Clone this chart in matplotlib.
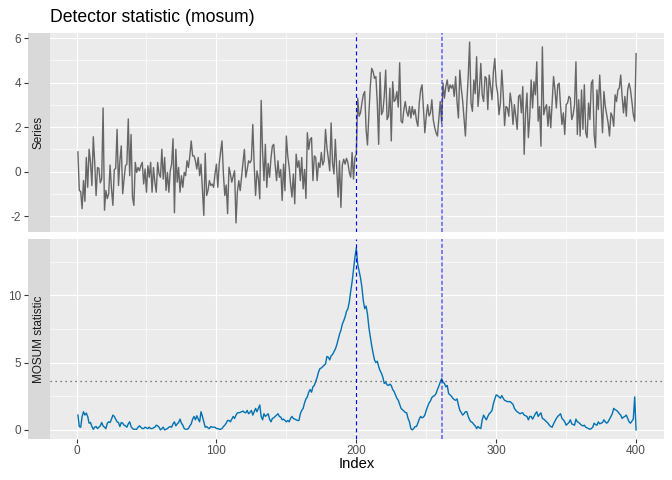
"""Detector statistic (mosum) - series panel + MOSUM statistic panel, ggplot-like look."""

import matplotlib
matplotlib.use("Agg")
import matplotlib.pyplot as plt
from matplotlib.ticker import FixedLocator

plt.rcParams["font.family"] = ["Liberation Sans", "DejaVu Sans"]
plt.rcParams["axes.unicode_minus"] = False

# --- Data ---
series = [
    0.89, -0.84, -0.89, -1.66, -0.40, -1.33, 0.64, -0.70, 1.01, 0.42,
    -0.62, 1.57, 0.42, -1.07, 0.19, 0.15, -0.50, -0.33, 2.86, -1.73,
    -0.84, -1.21, -0.99, 0.30, -0.77, -1.51, 0.09, 0.15, 1.90, -0.62,
    0.49, 1.16, -0.99, -0.33, 0.27, 0.34, 2.37, -0.18, 1.67, -1.14,
    -1.51, 0.42, -0.03, 0.19, 0.04, 0.27, 0.42, -0.55, 0.12, -0.92,
    0.27, -0.25, 0.42, -0.92, 0.19, -0.47, -0.92, 0.42, -0.10, -0.25,
    1.01, -0.33, 0.64, -0.84, -0.03, -0.92, 0.04, 0.34, 1.48, -1.84,
    1.01, -0.47, 0.19, -0.92, -0.18, -0.70, -0.03, -0.18, 0.49, 0.19,
    0.71, 1.38, 0.71, 0.71, 0.49, 0.12, 0.64, -0.18, 0.34, -0.77,
    -1.96, 0.83, -1.07, -0.84, -0.40, -0.62, -0.55, -0.70, -0.10, 0.34,
    -0.70, 0.34, 0.90, 1.38, -0.10, -1.07, -0.60, -1.88, 0.20, -0.10,
    -0.47, -0.20, 0.04, -2.30, -0.90, -0.40, -0.85, -0.20, 0.41, 1.00,
    -0.25, 0.10, 0.49, 0.40, 0.52, 2.12, 0.30, -1.07, 0.04, -0.30,
    -1.22, 3.20, 0.90, -0.40, 1.23, -0.70, 0.37, -0.25, 0.60, 1.15,
    1.23, 0.30, -0.40, 0.49, -0.25, 0.10, -1.29, 0.34, -0.85, 1.60,
    0.71, 0.20, -0.55, -1.14, -0.10, -1.44, 0.79, 0.20, 0.49, -0.40,
    0.64, -0.77, 0.10, -1.20, 1.75, 1.00, 1.45, 1.53, -0.40, 0.71,
    0.64, -0.40, 0.40, 0.19, 0.86, 0.30, 0.49, 1.90, 1.08, 0.60,
    0.04, 2.19, 0.41, -0.10, 1.45, 0.20, -1.14, 0.49, -1.60, 0.30,
    0.56, 0.34, 0.60, 0.41, -0.03, -0.25, 0.86, -0.33, 0.64, 0.78,
    3.30, 2.49, 2.64, 3.08, 3.45, 3.60, 1.90, 1.20, 2.60, 3.82,
    4.64, 4.49, 4.19, 4.27, 3.08, 1.23, 4.46, 2.56, 2.71, 3.40,
    4.56, 2.34, 2.49, 3.75, 1.38, 4.04, 3.15, 3.23, 3.60, 2.90,
    4.89, 2.27, 2.19, 2.79, 3.15, 2.70, 2.49, 2.93, 2.41, 2.93,
    2.56, 2.79, 2.30, 2.04, 3.08, 3.67, 3.90, 2.86, 1.75, 2.49,
    3.01, 2.50, 2.64, 3.23, 2.34, 2.00, 1.75, 1.60, 2.40, 3.15,
    2.19, 3.97, 3.30, 3.82, 4.12, 3.60, 3.90, 3.75, 3.90, 3.38,
    4.27, 3.15, 2.41, 4.56, 3.75, 3.20, 2.40, 1.60, 3.08, 4.27,
    5.82, 3.08, 2.71, 4.12, 3.50, 5.16, 2.93, 3.67, 4.86, 3.45,
    3.15, 4.27, 4.19, 2.79, 4.34, 3.82, 3.23, 4.49, 5.08, 3.90,
    3.53, 2.56, 3.08, 4.56, 3.53, 2.07, 2.93, 2.86, 2.49, 3.53,
    3.08, 2.12, 3.01, 2.49, 1.90, 3.38, 3.45, 2.64, 3.82, 0.78,
    2.64, 3.53, 1.53, 2.49, 4.12, 2.86, 4.04, 3.45, 4.93, 2.27,
    2.93, 1.15, 5.60, 2.56, 2.86, 3.01, 2.04, 2.93, 1.97, 3.08,
    4.27, 3.67, 2.86, 3.90, 3.97, 2.93, 2.12, 2.64, 1.67, 3.01,
    3.08, 3.38, 3.30, 2.34, 2.56, 3.01, 4.93, 1.67, 3.23, 1.60,
    3.67, 1.90, 3.90, 1.75, 1.53, 3.08, 2.34, 3.97, 4.12, 1.67,
    1.08, 3.67, 2.79, 4.34, 3.08, 1.75, 3.60, 2.93, 2.56, 2.19,
    1.60, 2.64, 2.49, 2.04, 3.45, 3.15, 3.67, 3.75, 4.34, 3.38,
    2.64, 3.38, 2.49, 3.67, 3.97, 3.67, 3.15, 2.56, 2.27, 5.30,
]

mosum = [
    1.1, 0.25, 0.2, 1.0, 1.35, 1.1, 1.25, 1.0, 0.5, 0.55,
    0.25, 0.05, 0.2, 0.25, 0.1, 0.2, 0.3, 0.55, 0.3, 0.2,
    0.1, 0.5, 0.6, 0.55, 0.8, 1.1, 1.0, 0.8, 0.6, 0.55,
    0.25, 0.55, 0.5, 0.35, 0.3, 0.2, 0.45, 0.6, 0.25, 0.1,
    0.05, 0.05, 0.05, 0.2, 0.3, 0.2, 0.1, 0.1, 0.2, 0.15,
    0.1, 0.2, 0.1, 0.1, 0.15, 0.2, 0.35, 0.3, 0.2, 0.0,
    0.1, 0.2, 0.0, 0.05, 0.1, 0.2, 0.25, 0.2, 0.45, 0.6,
    0.3, 0.45, 0.55, 0.8, 0.5, 0.35, 0.1, 0.05, 0.05, 0.1,
    0.3, 0.45, 0.8, 1.0, 0.75, 1.05, 0.8, 0.6, 1.35, 1.0,
    0.6, 0.2, 0.25, 0.15, 0.1, 0.25, 0.2, 0.2, 0.2, 0.1,
    0.1, 0.05, 0.05, 0.1, 0.25, 0.35, 0.5, 0.7, 0.7, 0.6,
    0.8, 1.0, 0.85, 1.1, 1.27, 1.27, 1.3, 1.35, 1.4, 1.3,
    1.27, 1.45, 1.2, 1.3, 1.45, 1.1, 1.35, 1.6, 1.35, 1.6,
    1.85, 1.0, 0.75, 1.2, 1.0, 1.1, 1.2, 0.8, 0.6, 0.85,
    0.9, 1.0, 1.1, 1.2, 1.0, 0.95, 0.75, 0.8, 0.7, 0.6,
    0.7, 0.6, 0.85, 1.0, 0.85, 0.8, 0.75, 0.7, 0.7, 1.2,
    1.45, 1.6, 2.0, 2.3, 2.45, 2.8, 3.0, 2.8, 3.2, 3.3,
    3.6, 3.9, 4.3, 4.55, 4.6, 4.7, 4.8, 4.9, 5.45, 5.4,
    5.2, 5.5, 5.6, 5.8, 6.0, 6.3, 6.7, 7.1, 7.4, 7.85,
    8.1, 8.4, 8.8, 9.0, 9.5, 10.3, 11.0, 11.9, 12.8, 13.5,
    12.3, 11.8, 11.3, 10.6, 9.6, 9.0, 9.2, 8.6, 7.6, 6.9,
    6.25, 5.7, 5.2, 5.0, 5.1, 4.7, 4.4, 4.2, 3.9, 3.45,
    3.55, 3.35, 3.3, 3.4, 3.3, 3.0, 2.85, 2.6, 2.35, 2.2,
    1.9, 1.6, 1.5, 1.4, 1.3, 1.27, 0.85, 0.6, 0.1, 0.0,
    0.1, 0.25, 0.25, 0.5, 0.8, 1.0, 0.9, 0.95, 1.1, 1.45,
    1.75, 2.0, 2.15, 2.4, 2.5, 2.55, 2.7, 3.0, 3.25, 3.55,
    3.8, 3.55, 3.45, 3.2, 3.3, 2.7, 2.6, 2.5, 2.35, 2.25,
    2.2, 2.3, 1.85, 1.45, 1.3, 1.1, 1.2, 1.35, 1.35, 1.0,
    0.75, 0.6, 0.55, 0.4, 0.3, 0.1, 0.25, 0.15, 0.1, 0.75,
    1.1, 0.9, 0.75, 1.0, 1.2, 1.3, 1.45, 1.95, 2.3, 2.6,
    2.55, 2.45, 2.35, 2.55, 2.35, 2.2, 2.15, 2.1, 2.1, 2.1,
    2.0, 1.9, 1.6, 1.45, 1.35, 1.27, 1.2, 1.25, 1.27, 1.1,
    1.05, 1.0, 0.75, 1.0, 1.0, 0.8, 1.0, 1.2, 1.35, 1.0,
    1.15, 1.27, 0.85, 0.8, 0.7, 0.6, 0.5, 0.35, 0.25, 0.2,
    0.45, 0.65, 0.85, 1.0, 1.1, 1.2, 0.85, 0.75, 0.6, 0.35,
    0.45, 0.55, 0.75, 0.45, 0.4, 0.35, 0.8, 0.6, 0.55, 0.45,
    0.35, 0.3, 0.35, 0.2, 0.15, 0.1, 0.05, 0.1, 0.2, 0.5,
    0.4, 0.35, 0.6, 0.45, 0.5, 0.55, 0.75, 0.6, 0.5, 0.6,
    0.8, 1.0, 1.2, 1.6, 1.5, 1.45, 1.35, 1.2, 1.1, 0.85,
    0.95, 1.0, 1.1, 0.85, 0.6, 0.5, 0.65, 0.8, 2.45, 0.0,
]

index = list(range(1, len(series) + 1))
change_points = [200, 261]
threshold = 3.6

x_major = [0, 100, 200, 300, 400]
x_minor = [50, 150, 250, 350]
top_major = [-2, 0, 2, 4, 6]
top_minor = [-1, 1, 3, 5]
bot_major = [0, 5, 10]
bot_minor = [2.5, 7.5, 12.5]

# --- Style ---
PANEL = "#EBEBEB"
STRIP = "#D9D9D9"
TICK_TXT = "#4D4D4D"
TICK_COL = "#333333"
SERIES_COL = "#666666"
MOSUM_COL = "#0072B2"
FS_TICK = 8.45
# first change point: thin dashed; second: a bit wider, semi-transparent
CP_STYLE = [
    dict(lw=0.85, alpha=1.0, ls=(0, (3.4, 2.6))),
    dict(lw=1.2, alpha=0.55, ls=(0, (2.4, 1.3))),
]

W, H = 672, 480
fig = plt.figure(figsize=(W / 100, H / 100), dpi=100)


def fx(px):
    return px / W


def fy(py):
    return 1 - py / H


panel_l, panel_r = 50, 664
strip_l = 28


def make_panel(top_px, bot_px, label, ymaj, ymin):
    ax = fig.add_axes([fx(panel_l), fy(bot_px), fx(panel_r - panel_l),
                       (bot_px - top_px) / H])
    ax.set_facecolor(PANEL)
    for s in ax.spines.values():
        s.set_visible(False)
    ax.xaxis.set_major_locator(FixedLocator(x_major))
    ax.xaxis.set_minor_locator(FixedLocator(x_minor))
    ax.yaxis.set_major_locator(FixedLocator(ymaj))
    ax.yaxis.set_minor_locator(FixedLocator(ymin))
    ax.grid(which="major", color="white", lw=0.85)
    ax.grid(which="minor", color="white", lw=0.45)
    ax.set_axisbelow(True)
    ax.tick_params(axis="y", which="both", length=0, labelleft=False)
    ax.tick_params(axis="x", which="minor", length=0)

    sx = fig.add_axes([fx(strip_l), fy(bot_px), fx(panel_l - strip_l),
                       (bot_px - top_px) / H], sharey=ax)
    sx.set_facecolor(STRIP)
    for s in sx.spines.values():
        s.set_visible(False)
    sx.set_xticks([])
    sx.tick_params(axis="y", which="major", length=2.6, width=0.8,
                   color=TICK_COL, labelsize=FS_TICK, labelcolor=TICK_TXT, pad=2.5)
    sx.tick_params(axis="y", which="minor", length=0)
    sx.text(0.5, 0.5, label, transform=sx.transAxes, rotation=90,
            ha="center", va="center", fontsize=FS_TICK, color="#1A1A1A")
    return ax


# ---------- Top: series ----------
ax1 = make_panel(33, 232, "Series", top_major, top_minor)
ax1.plot(index, series, color=SERIES_COL, lw=1.0)
ax1.margins(x=0.05, y=0.05)
ax1.tick_params(axis="x", which="both", length=0, labelbottom=False)

# ---------- Bottom: MOSUM statistic ----------
ax2 = make_panel(239, 439, "MOSUM statistic", bot_major, bot_minor)
ax2.plot(index, mosum, color=MOSUM_COL, lw=1.0)
ax2.margins(x=0.05, y=0.05)
ax2.axhline(threshold, color="#555555", lw=0.9, ls=(0, (1, 3)))
ax2.tick_params(axis="x", which="major", length=2.6, width=0.8, color=TICK_COL,
                labelsize=FS_TICK, labelcolor=TICK_TXT, pad=2)

ax2.set_xlim(ax1.get_xlim())

for ax in (ax1, ax2):
    for cp, st in zip(change_points, CP_STYLE):
        ax.axvline(cp, color="blue", **st)

fig.text(fx(panel_l), fy(21.5), "Detector statistic (mosum)", fontsize=12.7,
         ha="left", va="baseline", color="black")
fig.text(fx((panel_l + panel_r) / 2), fy(467.5), "Index", fontsize=10.6,
         ha="center", va="baseline", color="black")

fig.savefig("out.png", dpi=100, facecolor="white")
